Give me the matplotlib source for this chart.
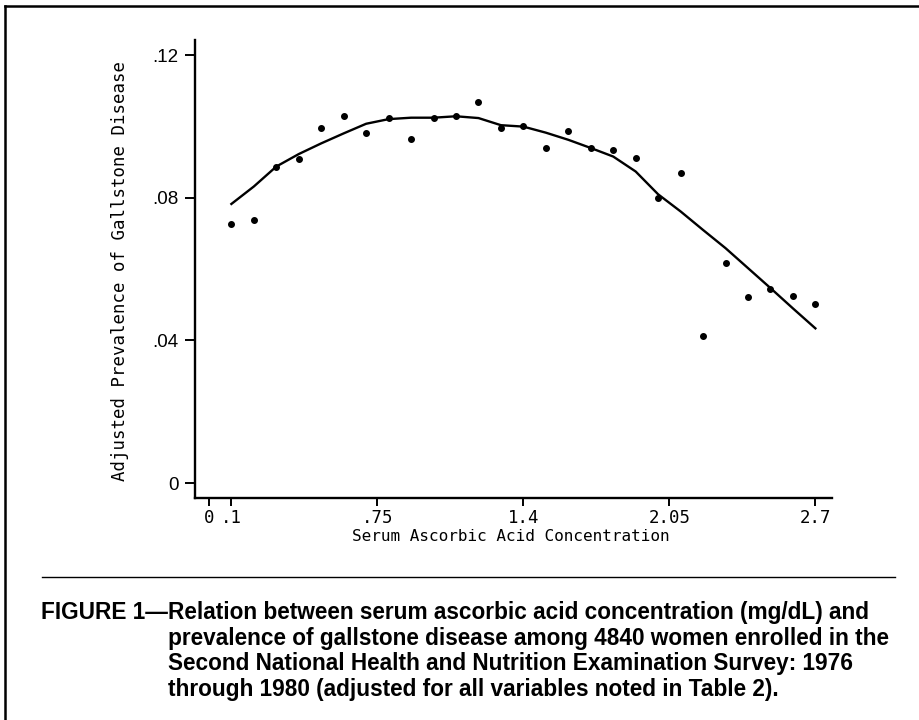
import matplotlib
matplotlib.use('Agg')

import matplotlib.pyplot as plt
from matplotlib.lines import Line2D

# serum ascorbic acid (mg/dL) and adjusted prevalence
conc = [0.1, 0.2, 0.3, 0.4, 0.5, 0.6, 0.7, 0.8, 0.9, 1.0, 1.1, 1.2, 1.3, 1.4,
        1.5, 1.6, 1.7, 1.8, 1.9, 2.0, 2.1, 2.2, 2.3, 2.4, 2.5, 2.6, 2.7]
prev = [0.0726, 0.0739, 0.0888, 0.0910, 0.0996, 0.1031, 0.0983, 0.1025, 0.0965,
        0.1024, 0.1031, 0.1069, 0.0996, 0.1001, 0.0941, 0.0988, 0.0939, 0.0934,
        0.0913, 0.0800, 0.0870, 0.0413, 0.0618, 0.0523, 0.0545, 0.0525, 0.0502]
# smoothed curve
smooth = [0.0783, 0.0832, 0.0888, 0.0923, 0.0953, 0.0981, 0.1008, 0.1021, 0.1025,
          0.1025, 0.1029, 0.1024, 0.1004, 0.1000, 0.0983, 0.0963, 0.0940, 0.0916,
          0.0874, 0.0810, 0.0762, 0.0710, 0.0659, 0.0603, 0.0547, 0.0490, 0.0434]

xticks = [0, 0.1, 0.75, 1.4, 2.05, 2.7]
xticklabels = ["0", ".1", ".75", "1.4", "2.05", "2.7"]
yticks = [0, 0.04, 0.08, 0.12]
yticklabels = ["0", ".04", ".08", ".12"]

caption = [
    ("FIGURE 1\u2014", "Relation between serum ascorbic acid concentration (mg/dL) and"),
    ("", "prevalence of gallstone disease among 4840 women enrolled in the"),
    ("", "Second National Health and Nutrition Examination Survey: 1976"),
    ("", "through 1980 (adjusted for all variables noted in Table 2)."),
]

W, H = 919, 720
fig = plt.figure(figsize=(W / 100, H / 100), dpi=100)
ax = fig.add_axes([195 / W, 1 - 498 / H, 637 / W, 458 / H])

ax.plot(conc, smooth, color="black", lw=1.7)
ax.plot(conc, prev, "o", color="black", ms=4)

ax.set_xlim(-0.062, 2.774)
ax.set_ylim(-0.0042, 0.1243)
for s in ["top", "right"]:
    ax.spines[s].set_visible(False)
for s in ["left", "bottom"]:
    ax.spines[s].set_linewidth(1.7)

ax.set_xticks(xticks)
ax.set_xticklabels(xticklabels, family="DejaVu Sans Mono", fontsize=12.5)
ax.set_yticks(yticks)
ax.set_yticklabels(yticklabels, family="Liberation Sans", fontsize=13.5)
ax.tick_params(axis="x", length=6, width=1.4, pad=2)
ax.tick_params(axis="y", length=7, width=1.4, pad=5)

ax.text(0.496, -0.085, "Serum Ascorbic Acid Concentration", transform=ax.transAxes,
        ha="center", va="center", family="DejaVu Sans Mono", fontsize=11.5)
ax.text(-0.1177, 0.4956, "Adjusted Prevalence of Gallstone Disease", transform=ax.transAxes,
        rotation=90, ha="center", va="center", family="DejaVu Sans Mono", fontsize=12.5)

# frame and rule
fig.add_artist(Line2D([4.5 / W, 1], [1 - 6 / H, 1 - 6 / H], color="black", lw=1.8))
fig.add_artist(Line2D([4.5 / W, 4.5 / W], [0, 1 - 6 / H], color="black", lw=1.8))
fig.add_artist(Line2D([42 / W, 895 / W], [1 - 577 / H, 1 - 577 / H], color="black", lw=1.0))

base = 619
for i, (head, body) in enumerate(caption):
    y = 1 - (base + i * 25.7) / H
    if head:
        fig.text(41 / W, y, head, family="Liberation Sans", weight="bold",
                 fontsize=16.3, va="baseline")
    fig.text(168 / W, y, body, family="Liberation Sans", weight="bold",
             fontsize=16.3, va="baseline")

fig.savefig("out.png", dpi=100)
